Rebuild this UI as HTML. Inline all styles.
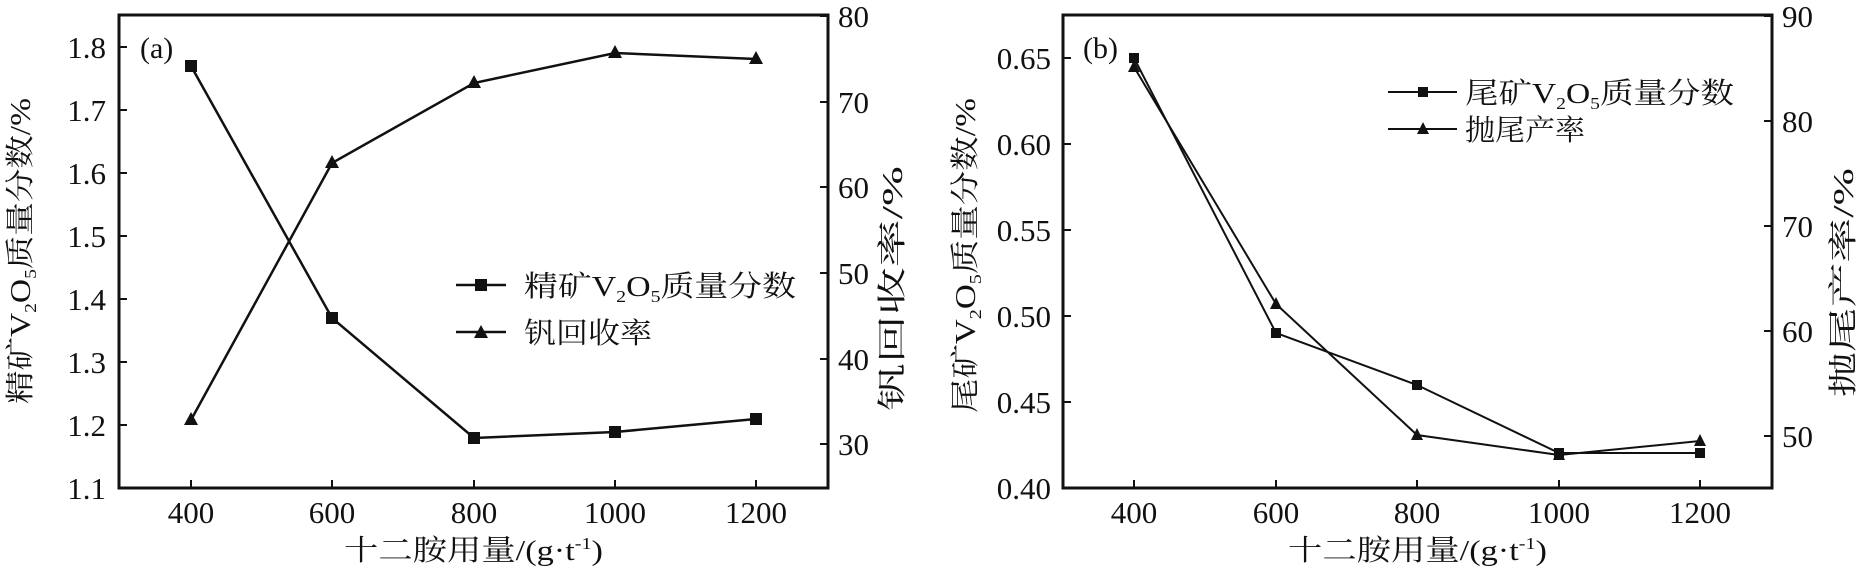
<!DOCTYPE html>
<html><head><meta charset="utf-8"><style>
html,body{margin:0;padding:0;background:#fff;}
svg{display:block;}
text{font-family:"Liberation Serif","Noto Serif CJK SC",serif;fill:#111;}
</style></head><body>
<svg width="1859" height="571" viewBox="0 0 1859 571" xmlns="http://www.w3.org/2000/svg">
<g stroke="#111" stroke-width="3" fill="none">
<rect x="119" y="15" width="709" height="473"/>
<rect x="1063" y="15" width="709" height="473"/>
</g>
<g stroke="#111" stroke-width="2">
<path d="M191 488v-8M332 488v-8M474 488v-8M615 488v-8M756 488v-8"/>
<path d="M119 47h8M119 110h8M119 173h8M119 236h8M119 299h8M119 362h8M119 425h8"/>
<path d="M828 16h-8M828 102h-8M828 187h-8M828 273h-8M828 359h-8M828 444h-8"/>
<path d="M1134 488v-8M1276 488v-8M1417 488v-8M1559 488v-8M1700 488v-8"/>
<path d="M1063 58h8M1063 144h8M1063 230h8M1063 316h8M1063 402h8"/>
<path d="M1772 16h-8M1772 121h-8M1772 226h-8M1772 331h-8M1772 436h-8"/>
</g>
<g font-size="31" text-anchor="end">
<text x="106" y="58">1.8</text><text x="106" y="121">1.7</text><text x="106" y="184">1.6</text><text x="106" y="247">1.5</text><text x="106" y="310">1.4</text><text x="106" y="373">1.3</text><text x="106" y="436">1.2</text><text x="106" y="499">1.1</text>
<text x="1051" y="69">0.65</text><text x="1051" y="155">0.60</text><text x="1051" y="241">0.55</text><text x="1051" y="327">0.50</text><text x="1051" y="413">0.45</text><text x="1051" y="499">0.40</text>
</g>
<g font-size="31" text-anchor="start">
<text x="838" y="27">80</text><text x="838" y="113">70</text><text x="838" y="198">60</text><text x="838" y="284">50</text><text x="838" y="370">40</text><text x="838" y="455">30</text>
<text x="1782" y="27">90</text><text x="1782" y="132">80</text><text x="1782" y="237">70</text><text x="1782" y="342">60</text><text x="1782" y="447">50</text>
</g>
<g font-size="31" text-anchor="middle">
<text x="191" y="523">400</text><text x="332" y="523">600</text><text x="474" y="523">800</text><text x="615" y="523">1000</text><text x="756" y="523">1200</text>
<text x="1134" y="523">400</text><text x="1276" y="523">600</text><text x="1417" y="523">800</text><text x="1559" y="523">1000</text><text x="1700" y="523">1200</text>
</g>
<text x="344" y="560" font-size="29" textLength="259" lengthAdjust="spacingAndGlyphs">十二胺用量/(g·t<tspan dy="-11" font-size="17">-1</tspan><tspan dy="11">)</tspan></text>
<text x="1288" y="560" font-size="29" textLength="259" lengthAdjust="spacingAndGlyphs">十二胺用量/(g·t<tspan dy="-11" font-size="17">-1</tspan><tspan dy="11">)</tspan></text>
<text transform="translate(30,404) rotate(-90)" font-size="29" textLength="306" lengthAdjust="spacingAndGlyphs">精矿V<tspan font-size="17" dy="6">2</tspan><tspan dy="-6">O</tspan><tspan font-size="17" dy="6">5</tspan><tspan dy="-6">质量分数/%</tspan></text>
<text transform="translate(902,411) rotate(-90)" font-size="29" textLength="245" lengthAdjust="spacingAndGlyphs">钒回收率/%</text>
<text transform="translate(975,413) rotate(-90)" font-size="29" textLength="315" lengthAdjust="spacingAndGlyphs">尾矿V<tspan font-size="17" dy="6">2</tspan><tspan dy="-6">O</tspan><tspan font-size="17" dy="6">5</tspan><tspan dy="-6">质量分数/%</tspan></text>
<text transform="translate(1853,397) rotate(-90)" font-size="29" textLength="229" lengthAdjust="spacingAndGlyphs">抛尾产率/%</text>
<text x="140" y="58" font-size="30">(a)</text>
<text x="1083" y="58" font-size="30">(b)</text>
<g stroke="#111" stroke-width="2.5" fill="none">
<polyline points="191,66 332,318 474,438 615,432 756,419"/>
<polyline points="191,420 332,163 474,83 615,53 756,59"/>
</g>
<g fill="#111">
<rect x="185" y="60" width="12" height="12"/><rect x="326" y="312" width="12" height="12"/><rect x="468" y="432" width="12" height="12"/><rect x="609" y="426" width="12" height="12"/><rect x="750" y="413" width="12" height="12"/>
<path d="M191 412l7 13h-14z M332 155l7 13h-14z M474 75l7 13h-14z M615 45l7 13h-14z M756 51l7 13h-14z"/>
</g>
<g stroke="#111" stroke-width="2.5"><path d="M456 285h50M456 332h50"/></g>
<rect x="475" y="279" width="12" height="12" fill="#111"/>
<path d="M481 325l7 13h-14z" fill="#111"/>
<text x="524" y="296" font-size="29" textLength="272" lengthAdjust="spacingAndGlyphs">精矿V<tspan font-size="17" dy="6">2</tspan><tspan dy="-6">O</tspan><tspan font-size="17" dy="6">5</tspan><tspan dy="-6">质量分数</tspan></text>
<text x="524" y="343" font-size="29" textLength="128" lengthAdjust="spacingAndGlyphs">钒回收率</text>
<g stroke="#111" stroke-width="2" fill="none">
<polyline points="1134,58 1276,333 1417,385 1559,453 1700,453"/>
<polyline points="1134,67 1276,304 1417,435 1559,455 1700,441"/>
</g>
<g fill="#111">
<rect x="1129" y="53" width="10" height="10"/><rect x="1271" y="328" width="10" height="10"/><rect x="1412" y="380" width="10" height="10"/><rect x="1554" y="448" width="10" height="10"/><rect x="1695" y="448" width="10" height="10"/>
<path d="M1134 60l6 12h-12z M1276 297l6 12h-12z M1417 428l6 12h-12z M1559 448l6 12h-12z M1700 434l6 12h-12z"/>
</g>
<g stroke="#111" stroke-width="2"><path d="M1388 92h69M1388 129h69"/></g>
<rect x="1418" y="87" width="10" height="10" fill="#111"/>
<path d="M1423 122l6 12h-12z" fill="#111"/>
<text x="1465" y="103" font-size="29" textLength="269" lengthAdjust="spacingAndGlyphs">尾矿V<tspan font-size="17" dy="6">2</tspan><tspan dy="-6">O</tspan><tspan font-size="17" dy="6">5</tspan><tspan dy="-6">质量分数</tspan></text>
<text x="1465" y="140" font-size="29" textLength="120" lengthAdjust="spacingAndGlyphs">抛尾产率</text>
</svg>
</body></html>
